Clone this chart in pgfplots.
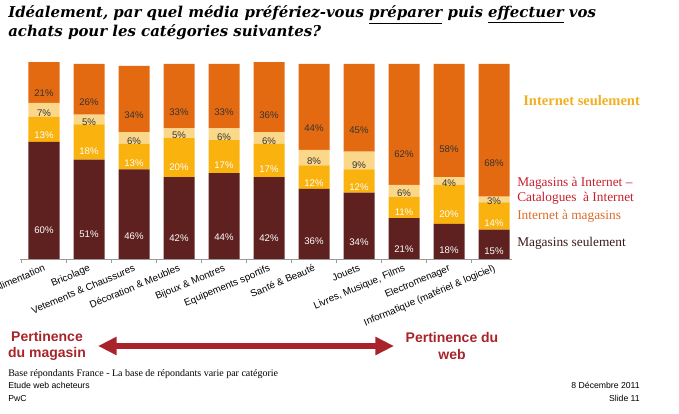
\documentclass[border=0pt]{standalone}
\usepackage{pgfplots}
\pgfplotsset{compat=1.18}
\usepackage{fontspec}
\setmainfont{Liberation Sans}
\newfontfamily\serif{DejaVu Serif}
\newfontfamily\tserif{Liberation Serif}
\usetikzlibrary{arrows.meta}
\definecolor{cdark}{HTML}{5E2120}
\definecolor{cyel}{HTML}{F9B20E}
\definecolor{clight}{HTML}{FBD78A}
\definecolor{corange}{HTML}{E36A10}
\definecolor{cgold}{HTML}{F2B020}
\definecolor{cred}{HTML}{C8202F}
\definecolor{corg}{HTML}{DC6A2A}
\definecolor{carrow}{HTML}{A8242A}
\definecolor{ctxt}{HTML}{3A1A1A}
\begin{document}
\begin{tikzpicture}
\useasboundingbox (0,0) rectangle (509.25pt,310.5pt);
\clip (0,0) rectangle (509.25pt,310.5pt);
\begin{axis}[
  at={(33pt,116.25pt)}, anchor=origin,
  x=33.75pt, y=1.4625pt,
  xmin=-0.53, xmax=10.4, ymin=0, ymax=101,
  ybar stacked, bar width=23.25pt,
  axis y line=none,
  axis x line*=bottom,
  x axis line style={draw=gray!80, line width=0.6pt},
  xtick={0,...,10},
  xticklabels={Alimentation,Bricolage,Vetements \& Chaussures,Décoration \& Meubles,Bijoux \& Montres,Equipements sportifs,Santé \& Beauté,Jouets,{Livres, Musique, Films},Electromenager,Informatique (matériel \& logiciel)},
  major tick length=0pt,
  minor xtick={-0.5,0.5,...,9.5},
  minor tick length=3pt,
  tick align=outside,
  xtick pos=bottom,
  minor tick style={draw=gray!80},
  xticklabel style={rotate=23, anchor=north east, font=\fontsize{7.4}{8.5}\selectfont, inner sep=1pt, yshift=-2pt, xshift=-1pt},
  clip=false,
  /pgf/number format/assume math mode=true,
  visualization depends on={rawy \as \rawy},
  nodes near coords={\pgfmathprintnumber{\rawy}\%},
  every node near coord/.append style={anchor=center, font=\fontsize{7.2}{8}\selectfont, yshift=-0.365625pt*\rawy},
]
\addplot[fill=cdark, draw=none, every node near coord/.append style={text=white}] coordinates {(0,60) (1,51) (2,46) (3,42) (4,44) (5,42) (6,36) (7,34) (8,21) (9,18) (10,15)};
\addplot[fill=cyel, draw=none, every node near coord/.append style={text=white}] coordinates {(0,13) (1,18) (2,13) (3,20) (4,17) (5,17) (6,12) (7,12) (8,11) (9,20) (10,14)};
\addplot[fill=clight, draw=none, every node near coord/.append style={text=black!80}] coordinates {(0,7) (1,5) (2,6) (3,5) (4,6) (5,6) (6,8) (7,9) (8,6) (9,4) (10,3)};
\addplot[fill=corange, draw=none, every node near coord/.append style={text=black!80}] coordinates {(0,21) (1,26) (2,34) (3,33) (4,33) (5,36) (6,44) (7,45) (8,62) (9,58) (10,68)};
\end{axis}
\begin{scope}[x=0.75pt,y=0.75pt]
% title
\node[anchor=base west, inner sep=0, font=\serif\bfseries\itshape\fontsize{11.2}{13}\selectfont] at (8,396) {Idéalement, par quel média préfériez-vous \underline{préparer} puis \underline{effectuer} vos};
\node[anchor=base west, inner sep=0, font=\serif\bfseries\itshape\fontsize{11.2}{13}\selectfont] at (8,377) {achats pour les catégories suivantes?};
% legend
\node[anchor=base west, inner sep=0, text=cgold, font=\tserif\bfseries\fontsize{10.9}{12}\selectfont] at (523,308) {Internet seulement};
\node[anchor=base west, inner sep=0, text=cred, font=\tserif\fontsize{10}{12}\selectfont] at (517,227) {Magasins à Internet –};
\node[anchor=base west, inner sep=0, text=cred, font=\tserif\fontsize{10}{12}\selectfont] at (517,212) {Catalogues~ à Internet};
\node[anchor=base west, inner sep=0, text=corg, font=\tserif\fontsize{10}{12}\selectfont] at (517,194) {Internet à magasins};
\node[anchor=base west, inner sep=0, text=ctxt, font=\tserif\fontsize{10}{12}\selectfont] at (517,167) {Magasins seulement};
% arrow
\draw[carrow, line width=4pt, {Triangle[length=14pt,width=13pt]}-{Triangle[length=14pt,width=13pt]}] (98,68) -- (394,68);
\node[align=center, text=carrow, font=\bfseries\fontsize{10.5}{12.5}\selectfont, inner sep=0] at (47,68) {Pertinence\\du magasin};
\node[align=center, text=carrow, font=\bfseries\fontsize{10.5}{12.5}\selectfont, inner sep=0] at (452,68) {Pertinence du\\web};
% footer
\node[anchor=base west, inner sep=0, font=\tserif\fontsize{7.5}{9}\selectfont] at (8,37) {Base répondants France - La base de répondants varie par catégorie};
\node[anchor=base west, inner sep=0, font=\fontsize{6.5}{8}\selectfont] at (8,25) {Etude web acheteurs};
\node[anchor=base west, inner sep=0, font=\fontsize{6.5}{8}\selectfont] at (8,12) {PwC};
\node[anchor=base east, inner sep=0, font=\fontsize{6.5}{8}\selectfont] at (640,25) {8 Décembre 2011};
\node[anchor=base east, inner sep=0, font=\fontsize{6.5}{8}\selectfont] at (640,12) {Slide 11};
\end{scope}
\end{tikzpicture}
\end{document}
